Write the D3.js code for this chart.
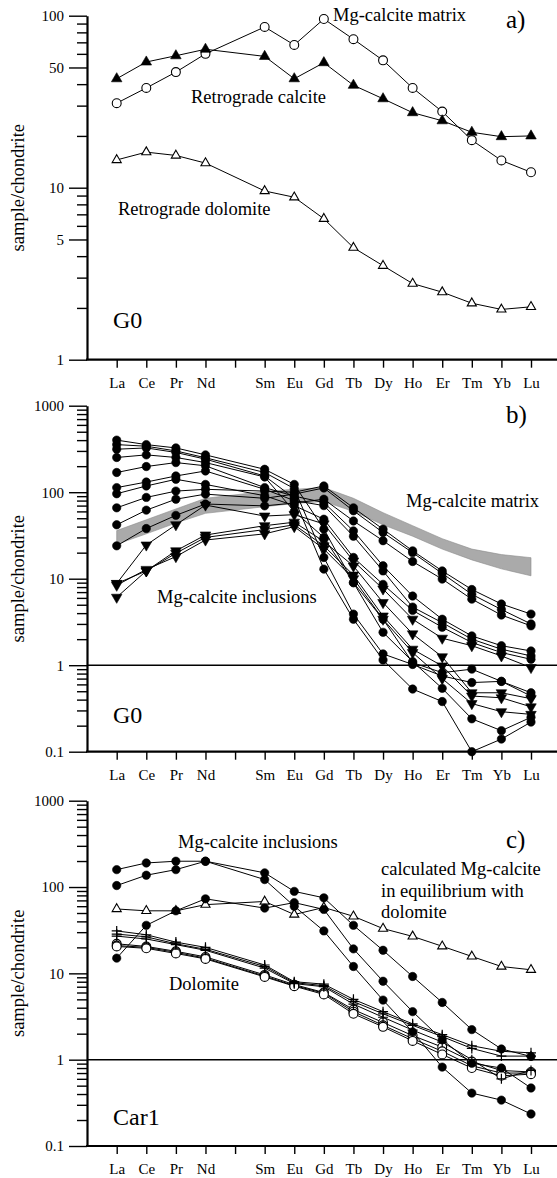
<!DOCTYPE html>
<html>
<head>
<meta charset="utf-8">
<script src="https://cdn.jsdelivr.net/npm/d3@7"></script>
<style>
  body { margin: 0; background: #fff; }
  svg { display: block; }
  text { font-family: "Liberation Serif", "Times New Roman", serif; fill: #000; }
</style>
</head>
<body>
<svg width="557" height="1178"></svg>
<script>
// Axis positions (Pm is an empty slot on the axis)
const elements = ["La", "Ce", "Pr", "Nd", "Pm", "Sm", "Eu", "Gd", "Tb", "Dy", "Ho", "Er", "Tm", "Yb", "Lu"];
// Elements that carry values, in the order of every series below
const ree = ["La", "Ce", "Pr", "Nd", "Sm", "Eu", "Gd", "Tb", "Dy", "Ho", "Er", "Tm", "Yb", "Lu"];

// Panel a) G0
const aMatrix = [31, 38, 47, 60, 86, 67.6, 95.7, 73, 55, 38, 27.7, 18.9, 14.4, 12.3];
const aCalcite = [43, 53.8, 58.5, 63.8, 58, 43, 53.3, 39.4, 32.9, 27.3, 24.5, 21, 19.8, 20];
const aDolomite = [14.5, 16.1, 15.4, 13.9, 9.57, 8.8, 6.6, 4.48, 3.52, 2.77, 2.47, 2.13, 1.96, 2.03];

// Panel b) G0 - Mg-calcite inclusions
const bCircles = [
  [400, 355, 325, 270, 184, 123, 37.4, 9, 3.4, 1.07, 0.82, 0.9, 0.65, 0.48],
  [355, 340, 300, 250, 169, 110, 17.6, 3.9, 1.35, 1.02, 0.75, 0.63, 0.65, 0.44],
  [314, 325, 288, 241, 154, 85, 12.9, 3.4, 1.15, 0.53, 0.38, 0.1, 0.14, 0.22],
  [252, 270, 252, 220, 150, 60, 30, 9, 2.4, 1.1, 0.54, 0.24, 0.175, 0.25],
  [169, 198, 220, 202, 113, 90, 76, 35.7, 14.1, 6.3, 3.4, 2.18, 1.68, 1.46],
  [113, 131, 154, 176, 108, 80, 70, 31, 12.3, 4.7, 3.1, 2.0, 1.53, 1.28],
  [96, 118, 141, 123, 91, 70, 48.7, 17.6, 8.6, 4.3, 2.75, 1.83, 1.4, 1.17],
  [66, 87, 103, 108, 103, 100, 118, 66, 37.4, 21, 12.3, 7.5, 5.1, 3.9],
  [42, 62, 83, 95, 85, 95, 112, 61, 34.2, 20, 11.5, 6.6, 4.4, 3.0],
  [24, 38, 54, 73, 69.5, 75, 83, 46.5, 27.5, 15.8, 9.9, 5.8, 3.8, 2.85]
];
const bTriangles = [
  [8.8, 24.5, 42, 71, 53, 55, 43, 16, 7.6, 3.4, 2.05, 1.68, 1.28, 0.94],
  [8.8, 12.3, 21, 32, 41, 45, 27, 14, 5.3, 2.3, 1.25, 0.48, 0.48, 0.41],
  [6.1, 12.3, 19.7, 30, 37, 42, 24, 11, 3.7, 1.53, 0.98, 0.44, 0.42, 0.33],
  [8.4, 12.8, 18, 28, 33, 40, 22, 10, 3.4, 1.4, 0.7, 0.36, 0.29, 0.27]
];
// range of the Mg-calcite matrix (grey band)
const bMatrixHigh = [36, 48, 64, 85, 102, 108, 113, 85, 58, 41, 29, 22, 19, 17.5];
const bMatrixLow = [25, 33, 44, 57, 68, 74, 78, 60, 42, 31, 22, 16.5, 13, 10.8];

// Panel c) Car1
const cInclusions = [
  [159, 190, 199, 199, 146, 89, 75, 36, 18.5, 9.2, 4.6, 2.23, 1.33, 1.09],
  [104, 137, 159, 199, 122, 60, 31, 12, 4.9, 2.1, 0.82, 0.41, 0.34, 0.235],
  [15, 36, 53, 73, 57, 66, 55, 19.2, 8.1, 3.6, 1.7, 0.91, 0.8, 0.47]
];
const cCalculated = [55.7, 53, 53, 62.5, 68, 48, 58, 45.8, 33, 26.8, 20.6, 15.7, 12, 11];
const cDolomitePlus = [
  [31, 28, 23, 20, 12.5, 8, 7.5, 5, 3.6, 2.6, 1.95, 1.45, 1.25, 1.2],
  [28.5, 26.5, 22, 19, 12, 7.8, 7.2, 4.7, 3.4, 2.5, 1.85, 1.35, 1.1, 1.1],
  [27, 25, 21.5, 18.5, 11.5, 7.6, 7.0, 4.4, 3.1, 2.2, 1.6, 1.0, 0.6, 0.75]
];
const cDolomiteCircle = [
  [22, 20.5, 18, 15.5, 9.6, 7.4, 6.0, 3.8, 2.7, 1.9, 1.4, 0.95, 0.75, 0.72],
  [21, 20, 17.5, 15, 9.3, 7.2, 5.9, 3.6, 2.5, 1.75, 1.25, 0.85, 0.7, 0.7],
  [20.5, 19.5, 17, 14.7, 9.1, 7.1, 5.7, 3.4, 2.4, 1.65, 1.15, 0.8, 0.65, 0.68]
];

const svg = d3.select("svg");
const x = d3.scalePoint().domain(elements).range([116.7, 531]);
const axisX = 87;

function minorTicks(lo, hi, skip) {
  const t = [];
  for (let d = lo; d < hi; d *= 10)
    for (let k = 2; k <= 9; k++) {
      const v = +(d * k).toPrecision(3);
      if (!skip.includes(v)) t.push(v);
    }
  return t;
}

function marker(g, type, px, py) {
  if (type === "plus") {
    g.append("path")
      .attr("d", `M${px - 5},${py}H${px + 5}M${px},${py - 5}V${py + 5}`)
      .attr("stroke", "#000").attr("stroke-width", 1.2);
    return;
  }
  let sym, size, rot = 0, fill = "#000";
  if (type === "circleFilled") { sym = d3.symbolCircle; size = 55; }
  if (type === "circleOpen") { sym = d3.symbolCircle; size = 62; fill = "#fff"; }
  if (type === "triUp") { sym = d3.symbolTriangle; size = 48; }
  if (type === "triOpen") { sym = d3.symbolTriangle; size = 36; fill = "#fff"; }
  if (type === "triDown") { sym = d3.symbolTriangle; size = 48; rot = 180; }
  g.append("path")
    .attr("d", d3.symbol(sym, size)())
    .attr("transform", `translate(${px},${py}) rotate(${rot})`)
    .attr("fill", fill)
    .attr("stroke", "#000")
    .attr("stroke-width", fill === "#fff" ? 1.1 : 0.6);
}

function panel(p) {
  const y = d3.scaleLog().domain(p.domain).range([p.bottom, p.top]);
  const g = svg.append("g");

  // grey band
  if (p.band) {
    const area = d3.area()
      .x((d, i) => x(ree[i]))
      .y0((d, i) => y(p.band.low[i]))
      .y1((d) => y(d));
    g.append("path")
      .attr("d", area(p.band.high))
      .attr("fill", "#aaaaaa")
      .attr("stroke", "#8c8c8c")
      .attr("stroke-width", 0.6);
  }

  // reference line at 1
  if (p.unitLine) {
    g.append("line")
      .attr("x1", axisX).attr("x2", 557)
      .attr("y1", y(1)).attr("y2", y(1))
      .attr("stroke", "#000").attr("stroke-width", 1.6);
  }

  // lines first, then markers on top
  const line = d3.line().x((d) => x(d.e)).y((d) => y(d.v));
  p.series.forEach((s) => {
    const pts = ree.map((e, i) => ({ e, v: s.values[i] }));
    g.append("path")
      .attr("d", line(pts))
      .attr("fill", "none")
      .attr("stroke", "#000")
      .attr("stroke-width", 1);
  });
  p.series.forEach((s) => {
    ree.forEach((e, i) => marker(g, s.marker, x(e), y(s.values[i])));
  });

  // y axis: minor then major ticks
  const yg = g.append("g").attr("transform", `translate(${axisX},0)`);
  yg.append("g")
    .call(d3.axisLeft(y).tickValues(p.minor).tickSize(10).tickFormat("").tickSizeOuter(0))
    .call((a) => a.select(".domain").remove());
  yg.append("g")
    .call(d3.axisLeft(y).tickValues(p.major).tickSize(18).tickPadding(5)
      .tickFormat(d3.format("~g")).tickSizeOuter(0))
    .call((a) => a.select(".domain").attr("stroke-width", 2.2));
  yg.selectAll(".tick line").attr("stroke-width", 1.4);
  yg.selectAll(".tick text").attr("font-size", 15).attr("font-family", "Liberation Serif");

  // x axis
  const xg = g.append("g").attr("transform", `translate(0,${p.bottom})`);
  xg.call(d3.axisBottom(x).tickSize(8).tickPadding(9.5)
    .tickFormat((d) => (d === "Pm" ? "" : d)).tickSizeOuter(0))
    .call((a) => a.select(".domain").remove());
  xg.selectAll(".tick line").attr("stroke-width", 1.4);
  xg.selectAll(".tick text").attr("font-size", 15).attr("font-family", "Liberation Serif");
  xg.append("line")
    .attr("x1", axisX - 1).attr("x2", 557)
    .attr("stroke", "#000").attr("stroke-width", 2.2);

  // y label
  g.append("text")
    .attr("transform", `translate(18,${(p.top + p.bottom) / 2}) rotate(-90)`)
    .attr("text-anchor", "middle")
    .attr("dominant-baseline", "central")
    .attr("font-size", 18.5)
    .text("sample/chondrite");

  p.labels.forEach((t) => {
    g.append("text")
      .attr("x", t.x).attr("y", t.y)
      .attr("font-size", t.size || 18.5)
      .text(t.text);
  });
}

panel({
  domain: [1, 100], top: 15.7, bottom: 359.7,
  major: [1, 5, 10, 50, 100],
  minor: minorTicks(1, 100, [5, 50]),
  series: [
    { values: aMatrix, marker: "circleOpen" },
    { values: aCalcite, marker: "triUp" },
    { values: aDolomite, marker: "triOpen" }
  ],
  labels: [
    { text: "Mg-calcite matrix", x: 333, y: 21 },
    { text: "Retrograde calcite", x: 191, y: 103 },
    { text: "Retrograde dolomite", x: 118, y: 215 },
    { text: "G0", x: 113, y: 328, size: 24 },
    { text: "a)", x: 506, y: 28, size: 25 }
  ]
});

panel({
  domain: [0.1, 1000], top: 405.7, bottom: 751.7,
  major: [0.1, 1, 10, 100, 1000],
  minor: minorTicks(0.1, 1000, []),
  unitLine: true,
  band: { high: bMatrixHigh, low: bMatrixLow },
  series: bCircles.map((v) => ({ values: v, marker: "circleFilled" }))
    .concat(bTriangles.map((v) => ({ values: v, marker: "triDown" }))),
  labels: [
    { text: "Mg-calcite matrix", x: 406, y: 507 },
    { text: "Mg-calcite inclusions", x: 157, y: 603 },
    { text: "G0", x: 113, y: 723, size: 24 },
    { text: "b)", x: 506, y: 423, size: 25 }
  ]
});

panel({
  domain: [0.1, 1000], top: 800.7, bottom: 1146,
  major: [0.1, 1, 10, 100, 1000],
  minor: minorTicks(0.1, 1000, []),
  unitLine: true,
  series: [{ values: cCalculated, marker: "triOpen" }]
    .concat(cDolomiteCircle.map((v) => ({ values: v, marker: "circleOpen" })))
    .concat(cDolomitePlus.map((v) => ({ values: v, marker: "plus" })))
    .concat(cInclusions.map((v) => ({ values: v, marker: "circleFilled" }))),
  labels: [
    { text: "Mg-calcite inclusions", x: 178, y: 848 },
    { text: "calculated Mg-calcite", x: 381, y: 875 },
    { text: "in equilibrium with", x: 381, y: 897 },
    { text: "dolomite", x: 381, y: 918 },
    { text: "Dolomite", x: 169, y: 990 },
    { text: "Car1", x: 113, y: 1125, size: 24 },
    { text: "c)", x: 506, y: 848, size: 25 }
  ]
});
</script>
</body>
</html>
